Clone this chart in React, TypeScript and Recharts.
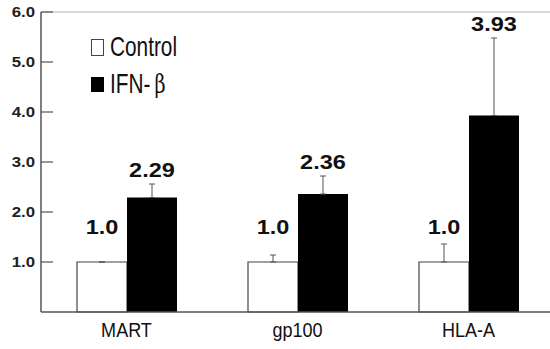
import React from "react";
import {
  BarChart,
  Bar,
  XAxis,
  YAxis,
  ErrorBar,
  LabelList,
  Legend,
  ReferenceLine,
} from "recharts";

const categories = ["MART", "gp100", "HLA-A"];
const controlValues = [1.0, 1.0, 1.0];
const ifnValues = [2.29, 2.36, 3.93];
// upper error only (lower part is 0)
const controlErrors = [0, 0.14, 0.36];
const ifnErrors = [0.27, 0.36, 1.55];
const yTicks = [1, 2, 3, 4, 5, 6];

const data = categories.map((name, i) => ({
  name,
  control: controlValues[i],
  ifn: ifnValues[i],
  controlErr: [0, controlErrors[i]],
  ifnErr: [0, ifnErrors[i]],
}));

const maxControlTop = Math.max(...controlValues.map((v, i) => v + controlErrors[i]));

const sans = "'Liberation Sans', Arial, Helvetica, sans-serif";
const axisColor = "#555";

function YTick(props: any) {
  const { x, y, payload } = props;
  return (
    <g>
      <line x1={x + 6} x2={x + 18} y1={y} y2={y} stroke={axisColor} strokeWidth={1.2} />
      <text
        transform={`translate(${x},${y}) scale(1.12,1)`}
        textAnchor="end"
        dy="0.36em"
        fontSize={15}
        fontWeight="bold"
        fontFamily={sans}
        fill="#222"
      >
        {payload.value.toFixed(1)}
      </text>
    </g>
  );
}

function XTick(props: any) {
  const { x, y, payload } = props;
  return (
    <text
      transform={`translate(${x},${y}) scale(0.95,1.08)`}
      textAnchor="middle"
      dy="0.8em"
      fontSize={19}
      fontFamily={sans}
      fill="#111"
    >
      {payload.value}
    </text>
  );
}

function makeLabel(errors: number[], digits: number, fixedTop?: number, gap = 7) {
  return (props: any) => {
    const { x, y, width, height, value, index } = props;
    const ppu = height / value;
    const top = fixedTop !== undefined ? y + height - fixedTop * ppu : y - errors[index] * ppu;
    const cx = x + width / 2;
    return (
      <text
        transform={`translate(${cx},${top - gap}) scale(1.12,1)`}
        textAnchor="middle"
        fontSize={21}
        fontWeight="bold"
        fontFamily={sans}
        fill="#111"
      >
        {Number(value).toFixed(digits)}
      </text>
    );
  };
}

function LegendBox() {
  const row: React.CSSProperties = {
    display: "flex",
    alignItems: "center",
    height: 37,
    fontFamily: sans,
    fontSize: 26,
    color: "#111",
  };
  const txt: React.CSSProperties = {
    display: "inline-block",
    transform: "scale(0.8,1.05)",
    transformOrigin: "left center",
    whiteSpace: "nowrap",
  };
  return (
    <div>
      <div style={row}>
        <span style={{ width: 11, height: 15, border: "1px solid #444", background: "#fff", marginRight: 6 }} />
        <span style={txt}>Control</span>
      </div>
      <div style={row}>
        <span style={{ width: 13, height: 15, background: "#000", marginRight: 6 }} />
        <span style={txt}>
          IFN-<span style={{ marginLeft: 5, fontFamily: "'DejaVu Serif', serif", fontSize: 24 }}>β</span>
        </span>
      </div>
    </div>
  );
}

export default function App() {
  return (
    <div style={{ position: "absolute", left: 0, top: 0, background: "#fff" }}>
      <BarChart
        width={550}
        height={349}
        data={data}
        barGap={0}
        barSize={50}
        margin={{ top: 12, right: -4, bottom: 0, left: 0 }}
      >
        <ReferenceLine y={6} stroke="#ccc" strokeWidth={1.5} />
        <XAxis
          dataKey="name"
          height={37}
          tickSize={0}
          tickMargin={9}
          stroke={axisColor}
          strokeWidth={1.5}
          tick={<XTick />}
        />
        <YAxis
          width={41}
          domain={[0, 6]}
          ticks={yTicks}
          tickSize={0}
          tickMargin={6}
          stroke={axisColor}
          strokeWidth={1.5}
          tick={<YTick />}
        />
        <Legend
          layout="horizontal"
          verticalAlign="middle"
          align="center"
          content={() => <LegendBox />}
          wrapperStyle={{ top: 29, left: 91, width: 150, height: 80 }}
        />
        <Bar dataKey="control" name="Control" fill="#fff" stroke="#444" strokeWidth={1.2} isAnimationActive={false}>
          <ErrorBar dataKey="controlErr" direction="y" width={3} stroke="#555" strokeWidth={1} />
          <LabelList dataKey="control" content={makeLabel(controlErrors, 1, maxControlTop, 10)} />
        </Bar>
        <Bar dataKey="ifn" name="IFN-β" fill="#000" isAnimationActive={false}>
          <ErrorBar dataKey="ifnErr" direction="y" width={3} stroke="#555" strokeWidth={1} />
          <LabelList dataKey="ifn" content={makeLabel(ifnErrors, 2)} />
        </Bar>
      </BarChart>
    </div>
  );
}
